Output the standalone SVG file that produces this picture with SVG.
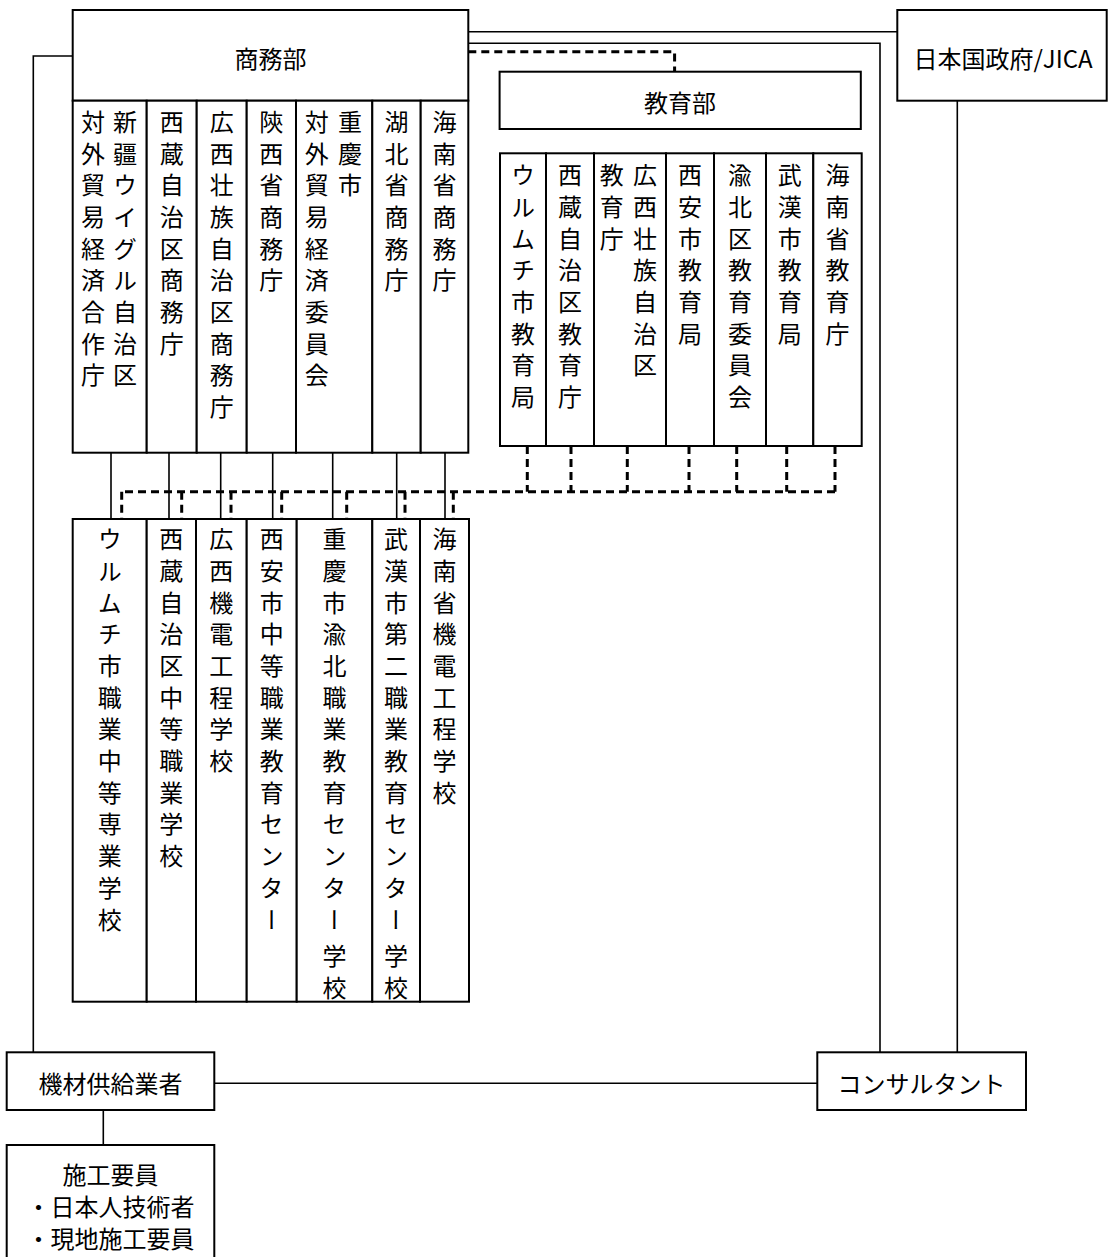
<svg xmlns="http://www.w3.org/2000/svg" width="1115" height="1257" viewBox="0 0 1115 1257">
<style>
.box{fill:#fff;stroke:#000;stroke-width:2}
.ln{fill:none;stroke:#000;stroke-width:1.6}
.dash{fill:none;stroke:#000;stroke-width:3;stroke-dasharray:8 5}
.t{font-family:"Noto Sans CJK JP","Noto Sans",sans-serif;font-size:24px;fill:#000}
.h{text-anchor:middle;dominant-baseline:central}
.v{writing-mode:vertical-rl;letter-spacing:7.7px;dominant-baseline:central}
</style>
<rect width="1115" height="1257" fill="#fff"/>
<g id="connectors">
<path class="ln" d="M468.3,31.7 H897.3"/>
<path class="ln" d="M468.3,43.3 H880 V1052.3"/>
<path class="ln" d="M957.3,100.7 V1052.3"/>
<path class="ln" d="M72.7,56 H33.3 V1052.3"/>
<path class="ln" d="M214.3,1083.3 H817.3"/>
<path class="ln" d="M103.3,1110 V1145"/>
<path class="ln" d="M111,452.7 V519 M169,452.7 V519 M220.7,452.7 V519 M272.7,452.7 V519 M332.7,452.7 V519 M396.7,452.7 V519 M445,452.7 V519"/>
<path class="dash" d="M468.3,51.7 H674.6 V71.7"/>
<path class="dash" d="M527.3,446 V491.7 M571,446 V491.7 M627.3,446 V491.7 M689,446 V491.7 M736.7,446 V491.7 M786.7,446 V491.7 M835,446 V491.7"/>
<path class="dash" d="M835,491.7 H121.7"/>
<path class="dash" d="M121.7,491.7 V519 M181.7,491.7 V519 M231,491.7 V519 M281.7,491.7 V519 M346.7,491.7 V519 M405,491.7 V519 M453.3,491.7 V519"/>
</g>
<g id="shomubu">
<rect class="box" x="72.7" y="10" width="395.6" height="90.7"/>
<text class="t h" x="270.5" y="57">商務部</text>
</g>
<g id="c1"><rect class="box" x="72.7" y="100.7" width="74" height="352"/>
<text class="t v" x="93" y="109.7">対外貿易経済合作庁</text>
<text class="t v" x="125" y="109.7">新疆ウイグル自治区</text></g>
<g id="c2"><rect class="box" x="146.7" y="100.7" width="50" height="352"/>
<text class="t v" x="171.7" y="109.7">西蔵自治区商務庁</text></g>
<g id="c3"><rect class="box" x="196.7" y="100.7" width="50" height="352"/>
<text class="t v" x="221.7" y="109.7">広西壮族自治区商務庁</text></g>
<g id="c4"><rect class="box" x="246.7" y="100.7" width="49.3" height="352"/>
<text class="t v" x="271.3" y="109.7">陝西省商務庁</text></g>
<g id="c5"><rect class="box" x="296" y="100.7" width="76.3" height="352"/>
<text class="t v" x="316.7" y="109.7">対外貿易経済委員会</text>
<text class="t v" x="350" y="109.7">重慶市</text></g>
<g id="c6"><rect class="box" x="372.3" y="100.7" width="48.4" height="352"/>
<text class="t v" x="396.5" y="109.7">湖北省商務庁</text></g>
<g id="c7"><rect class="box" x="420.7" y="100.7" width="47.6" height="352"/>
<text class="t v" x="444.5" y="109.7">海南省商務庁</text></g>
<g id="kyoikubu">
<rect class="box" x="499.6" y="71.7" width="361.2" height="57.3"/>
<text class="t h" x="680" y="101">教育部</text>
</g>
<g id="e1"><rect class="box" x="500" y="153.3" width="46" height="292.7"/>
<text class="t v" x="523" y="163">ウルムチ市教育局</text></g>
<g id="e2"><rect class="box" x="546" y="153.3" width="48" height="292.7"/>
<text class="t v" x="570" y="163">西蔵自治区教育庁</text></g>
<g id="e3"><rect class="box" x="594" y="153.3" width="72" height="292.7"/>
<text class="t v" x="611.7" y="163">教育庁</text>
<text class="t v" x="645" y="163">広西壮族自治区</text></g>
<g id="e4"><rect class="box" x="666" y="153.3" width="48" height="292.7"/>
<text class="t v" x="690" y="163">西安市教育局</text></g>
<g id="e5"><rect class="box" x="714" y="153.3" width="52" height="292.7"/>
<text class="t v" x="740" y="163">渝北区教育委員会</text></g>
<g id="e6"><rect class="box" x="766" y="153.3" width="47.3" height="292.7"/>
<text class="t v" x="789.7" y="163">武漢市教育局</text></g>
<g id="e7"><rect class="box" x="813.3" y="153.3" width="48.4" height="292.7"/>
<text class="t v" x="837.5" y="163">海南省教育庁</text></g>
<g id="s1"><rect class="box" x="72.7" y="519" width="74" height="482.7"/>
<text class="t v" x="109.7" y="527">ウルムチ市職業中等専業学校</text></g>
<g id="s2"><rect class="box" x="146.7" y="519" width="49.3" height="482.7"/>
<text class="t v" x="171.3" y="527">西蔵自治区中等職業学校</text></g>
<g id="s3"><rect class="box" x="196" y="519" width="50.7" height="482.7"/>
<text class="t v" x="221.3" y="527">広西機電工程学校</text></g>
<g id="s4"><rect class="box" x="246.7" y="519" width="50" height="482.7"/>
<text class="t v" x="271.7" y="527">西安市中等職業教育センター</text></g>
<g id="s5"><rect class="box" x="296.7" y="519" width="75.6" height="482.7"/>
<text class="t v" x="334.5" y="527">重慶市渝北職業教育センター<tspan dy="5">学校</tspan></text></g>
<g id="s6"><rect class="box" x="372.3" y="519" width="47.7" height="482.7"/>
<text class="t v" x="396" y="527">武漢市第二職業教育センター<tspan dy="5">学校</tspan></text></g>
<g id="s7"><rect class="box" x="420" y="519" width="49" height="482.7"/>
<text class="t v" x="444.5" y="527">海南省機電工程学校</text></g>
<g id="jica">
<rect class="box" x="897.3" y="10" width="209.4" height="90.7"/>
<text class="t h" x="1003" y="57">日本国政府/JICA</text>
</g>
<g id="consultant">
<rect class="box" x="817.3" y="1052.3" width="208.7" height="57.7"/>
<text class="t h" x="921.5" y="1082">コンサルタント</text>
</g>
<g id="supplier">
<rect class="box" x="6.7" y="1052.3" width="207.6" height="57.7"/>
<text class="t h" x="110.5" y="1082">機材供給業者</text>
</g>
<g id="workers">
<rect class="box" x="6.7" y="1145" width="207.6" height="125"/>
<text class="t h" x="110.5" y="1173">施工要員</text>
<text class="t h" x="110.5" y="1205">・日本人技術者</text>
<text class="t h" x="110.5" y="1237">・現地施工要員</text>
</g>
</svg>
